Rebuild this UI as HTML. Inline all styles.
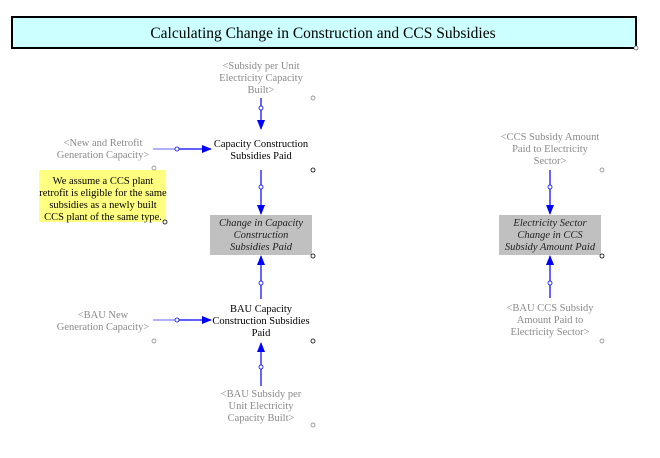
<!DOCTYPE html>
<html><head><meta charset="utf-8"><style>
html,body{margin:0;padding:0;background:#fff;}
svg{display:block;}
text{font-family:"Liberation Serif",serif;font-size:10.5px;text-anchor:middle;}
.g{fill:#8a8a8a;}
.k{fill:#000;}
.i{font-style:italic;fill:#222;}
</style></head><body>
<svg width="660" height="458" viewBox="0 0 660 458" xmlns="http://www.w3.org/2000/svg">
<defs>
<marker id="a" markerWidth="10" markerHeight="8" refX="9" refY="4" orient="auto" markerUnits="userSpaceOnUse">
<path d="M0,0 L10,4 L0,8 Z" fill="#0000ff"/></marker>
</defs>
<rect x="12" y="17" width="624" height="31" fill="#ccffff" stroke="#000" stroke-width="2"/>
<text x="323" y="38" style="font-size:15.5px" class="k">Calculating Change in Construction and CCS Subsidies</text>
<circle cx="636" cy="48" r="2" fill="#fff" stroke="#555" stroke-width="0.7"/>

<g class="g">
<text x="261" y="69">&lt;Subsidy per Unit</text>
<text x="261" y="81">Electricity Capacity</text>
<text x="261" y="93">Built&gt;</text>
<text x="103" y="146">&lt;New and Retrofit</text>
<text x="103" y="158">Generation Capacity&gt;</text>
<text x="103" y="318">&lt;BAU New</text>
<text x="103" y="330">Generation Capacity&gt;</text>
<text x="261" y="397">&lt;BAU Subsidy per</text>
<text x="261" y="409">Unit Electricity</text>
<text x="261" y="421">Capacity Built&gt;</text>
<text x="550" y="140">&lt;CCS Subsidy Amount</text>
<text x="550" y="152">Paid to Electricity</text>
<text x="550" y="164">Sector&gt;</text>
<text x="550" y="311">&lt;BAU CCS Subsidy</text>
<text x="550" y="323">Amount Paid to</text>
<text x="550" y="335">Electricity Sector&gt;</text>
</g>
<g class="k">
<text x="261" y="147">Capacity Construction</text>
<text x="261" y="159">Subsidies Paid</text>
<text x="261" y="312">BAU Capacity</text>
<text x="261" y="324">Construction Subsidies</text>
<text x="261" y="336">Paid</text>
</g>
<rect x="39" y="170" width="127" height="52" fill="#ffff80"/>
<g class="k">
<text x="103" y="184">We assume a CCS plant</text>
<text x="103" y="196">retrofit is eligible for the same</text>
<text x="103" y="208">subsidies as a newly built</text>
<text x="103" y="220">CCS plant of the same type.</text>
</g>
<rect x="210" y="215" width="102" height="40" fill="#c0c0c0"/>
<rect x="499" y="215" width="102" height="40" fill="#c0c0c0"/>
<g class="i">
<text x="261" y="226">Change in Capacity</text>
<text x="261" y="238">Construction</text>
<text x="261" y="250">Subsidies Paid</text>
<text x="550" y="226">Electricity Sector</text>
<text x="550" y="238">Change in CCS</text>
<text x="550" y="250">Subsidy Amount Paid</text>
</g>

<g stroke="#8080ff" stroke-width="1.2">
<line x1="153" y1="149" x2="177" y2="149"/>
<line x1="153" y1="320" x2="177" y2="320"/>
</g>
<g stroke="#0000ff" stroke-width="1.2" fill="none">
<line x1="261" y1="98" x2="261" y2="129" marker-end="url(#a)"/>
<line x1="177" y1="149" x2="211" y2="149" marker-end="url(#a)"/>
<line x1="261" y1="170" x2="261" y2="214" marker-end="url(#a)"/>
<line x1="261" y1="299" x2="261" y2="256" marker-end="url(#a)"/>
<line x1="177" y1="320" x2="211" y2="320" marker-end="url(#a)"/>
<line x1="261" y1="386" x2="261" y2="343" marker-end="url(#a)"/>
<line x1="550" y1="170" x2="550" y2="214" marker-end="url(#a)"/>
<line x1="550" y1="298" x2="550" y2="256" marker-end="url(#a)"/>
</g>
<g fill="#fff" stroke="#0000ff" stroke-width="0.8">
<circle cx="261" cy="108" r="2"/>
<circle cx="177" cy="149" r="2"/>
<circle cx="261" cy="187" r="2"/>
<circle cx="261" cy="283" r="2"/>
<circle cx="177" cy="320" r="2"/>
<circle cx="261" cy="367" r="2"/>
<circle cx="550" cy="187" r="2"/>
<circle cx="550" cy="283" r="2"/>
</g>
<g fill="#fff" stroke="#777" stroke-width="0.7">
<circle cx="313" cy="98" r="2"/>
<circle cx="154" cy="168" r="2"/>
<circle cx="154" cy="341" r="2"/>
<circle cx="313" cy="425" r="2"/>
<circle cx="602" cy="170" r="2"/>
<circle cx="602" cy="341" r="2"/>
</g>
<g fill="#fff" stroke="#000" stroke-width="0.8">
<circle cx="313" cy="170" r="2"/>
<circle cx="165" cy="222" r="2"/>
<circle cx="313" cy="256" r="2"/>
<circle cx="313" cy="341" r="2"/>
<circle cx="602" cy="256" r="2"/>
</g>
</svg>
</body></html>
